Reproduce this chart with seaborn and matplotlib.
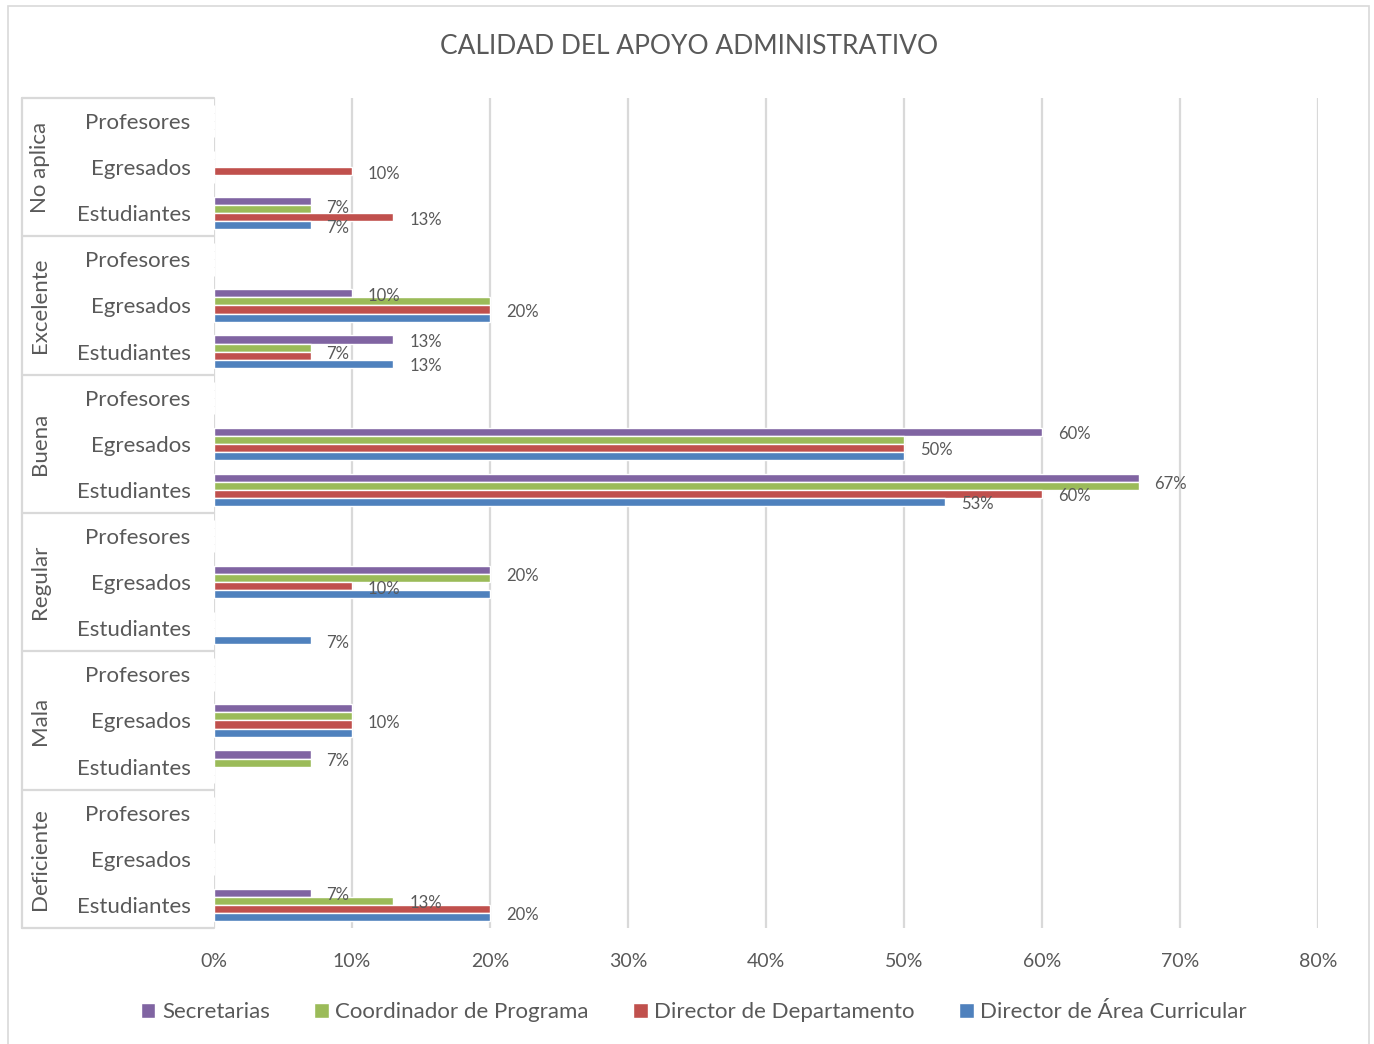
import numpy as np
import pandas as pd
import matplotlib.pyplot as plt
import matplotlib.transforms as mtransforms
from matplotlib.patches import Rectangle, Patch
import seaborn as sb

# Categories (top to bottom as in the chart)
groups = ['No aplica', 'Excelente', 'Buena', 'Regular', 'Mala', 'Deficiente']
subgroups = ['Profesores', 'Egresados', 'Estudiantes']
series = ['Secretarias', 'Coordinador de Programa', 'Director de Departamento', 'Director de Área Curricular']
colors = ['#8064A2', '#9BBB59', '#C0504D', '#4F81BD']

# Percentages per row (group x subgroup, top to bottom)
secretarias = [0, 0, 7, 0, 10, 13, 0, 60, 67, 0, 20, 0, 0, 10, 7, 0, 0, 7]
coordinador = [0, 0, 7, 0, 20, 7, 0, 50, 67, 0, 20, 0, 0, 10, 7, 0, 0, 13]
director_depto = [0, 10, 13, 0, 20, 7, 0, 50, 60, 0, 10, 0, 0, 10, 0, 0, 0, 20]
director_area = [0, 0, 7, 0, 20, 13, 0, 50, 53, 0, 20, 7, 0, 10, 0, 0, 0, 20]
values = [secretarias, coordinador, director_depto, director_area]

# labels hidden in the original chart: (row index, series index)
hidden_labels = [(10, 3)]

row_keys = [g + ' | ' + s for g in groups for s in subgroups]
records = []
for name, vals in zip(series, values):
    for key, v in zip(row_keys, vals):
        records.append({'fila': key, 'serie': name, 'valor': v / 100})
df = pd.DataFrame(records)

sb.set_style('white')
plt.rcParams['font.family'] = ['Lato', 'DejaVu Sans']
txt = '#595959'
grid = '#d9d9d9'

fig = plt.figure(figsize=(13.74, 10.44), dpi=100)
ax = fig.add_axes([214 / 1374, 1 - 928 / 1044, 1104 / 1374, 830 / 1044])

sb.barplot(data=df, x='valor', y='fila', hue='serie', order=row_keys, hue_order=series,
           palette=colors, width=0.7, saturation=1, orient='h', errorbar=None, ax=ax)
ax.get_legend().remove()

ax.set_xlim(0, 0.8)
ax.set_ylim(len(row_keys) - 0.5, -0.5)
ax.set_xticks(np.arange(0, 0.81, 0.1))
ax.set_xticklabels([f'{int(round(t * 100))}%' for t in np.arange(0, 0.81, 0.1)])
ax.set_yticks(range(len(row_keys)))
ax.set_yticklabels([s for g in groups for s in subgroups])
ax.tick_params(axis='y', length=0, pad=17, labelsize=16, labelcolor=txt)
ax.tick_params(axis='x', length=0, pad=18, labelsize=14, labelcolor=txt)
ax.set_xlabel('')
ax.set_ylabel('')
ax.xaxis.grid(True, color=grid, lw=1.6)
ax.set_axisbelow(True)
for sp in ax.spines.values():
    sp.set_visible(False)

# Group separators and labels on the left
trans = mtransforms.blended_transform_factory(ax.transAxes, ax.transData)
x0 = (22 - 214) / 1104
for k in range(len(groups) + 1):
    y = -0.5 + 3 * k
    ax.plot([x0, 0], [y, y], color=grid, lw=1.6, transform=trans, clip_on=False)
ax.plot([x0, x0], [-0.5, len(row_keys) - 0.5], color=grid, lw=1.6, transform=trans, clip_on=False)
for k, g in enumerate(groups):
    ax.text((40 - 214) / 1104, 3 * k + 1, g, rotation=90, ha='center', va='center',
            fontsize=16, color=txt, transform=trans)

# Data labels: equal neighbouring bars share one label
for r in range(len(row_keys)):
    bars = [(values[i][r], ax.containers[i][r]) for i in range(len(series))
            if (r, i) not in hidden_labels]
    i = 0
    while i < len(bars):
        j = i
        while j + 1 < len(bars) and bars[j + 1][0] == bars[i][0]:
            j += 1
        v = bars[i][0]
        if v > 0:
            ys = [b.get_y() + b.get_height() / 2 for _, b in bars[i:j + 1]]
            ax.text(v / 100 + 0.0115, np.mean(ys) + 0.05, f'{v}%', ha='left', va='center',
                    fontsize=12, color=txt)
        i = j + 1

fig.text(689 / 1374, 1 - 46 / 1044, 'CALIDAD DEL APOYO ADMINISTRATIVO', ha='center',
         va='center', fontsize=19, color=txt)

handles = [Patch(facecolor=c) for c in colors]
fig.legend(handles, series, loc='center', bbox_to_anchor=(0.505, 1 - 1012 / 1044), ncol=4,
           frameon=False, fontsize=16, labelcolor=txt, handlelength=0.65, handleheight=0.65,
           handletextpad=0.3, columnspacing=2.0)

fig.patches.append(Rectangle((8 / 1374, -0.01), 1361 / 1374, 1.01 - 6 / 1044,
                             transform=fig.transFigure, fill=False, ec=grid, lw=1.2))

fig.savefig('out.png', dpi=100, facecolor='white')
